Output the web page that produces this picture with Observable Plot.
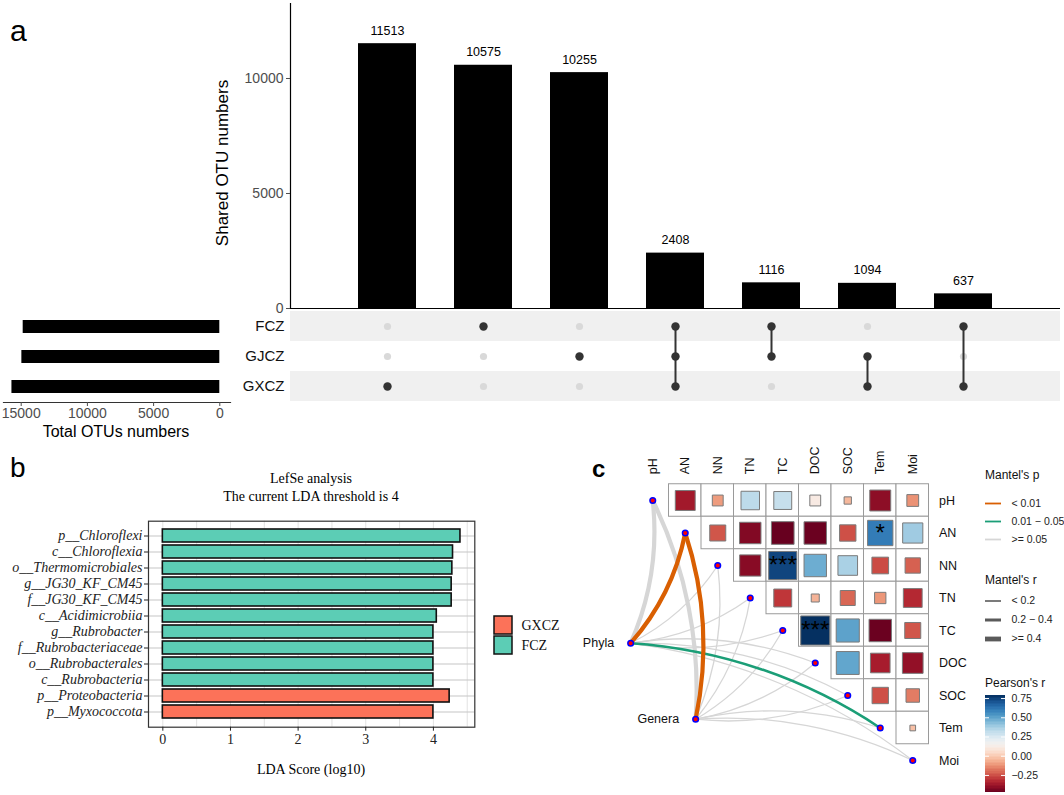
<!DOCTYPE html>
<html><head><meta charset="utf-8">
<script src="https://cdn.jsdelivr.net/npm/d3@7"></script>
<script src="https://cdn.jsdelivr.net/npm/@observablehq/plot@0.6"></script>
<style>
body{margin:0;background:#fff;}
#root{position:relative;width:1064px;height:795px;overflow:hidden;background:#fff;}
</style></head><body><div id="root"></div>
<script>
// ---------------- DATA ----------------
// Panel a (UpSet)
const setNames = ["FCZ", "GJCZ", "GXCZ"];
const setSizes = [14850, 14950, 15700];
const intersectionNames = ["GXCZ", "FCZ", "GJCZ", "FCZ&GJCZ&GXCZ", "FCZ&GJCZ", "GJCZ&GXCZ", "FCZ&GXCZ"];
const intersectionCounts = [11513, 10575, 10255, 2408, 1116, 1094, 637];
const shadedSets = ["FCZ", "GXCZ"];
const sharedTicks = [0, 5000, 10000];
const totalTicks = [0, 5000, 10000, 15000];

// Panel b (LEfSe)
const lefseTaxa = ["p__Chloroflexi", "c__Chloroflexia", "o__Thermomicrobiales", "g__JG30_KF_CM45", "f__JG30_KF_CM45", "c__Acidimicrobiia", "g__Rubrobacter", "f__Rubrobacteriaceae", "o__Rubrobacterales", "c__Rubrobacteria", "p__Proteobacteria", "p__Myxococcota"];
const lefseScores = [4.40, 4.29, 4.28, 4.27, 4.27, 4.05, 4.00, 4.00, 4.00, 4.00, 4.24, 4.00];
const lefseGroups = ["FCZ", "FCZ", "FCZ", "FCZ", "FCZ", "FCZ", "FCZ", "FCZ", "FCZ", "FCZ", "GXCZ", "GXCZ"];
const lefseGroupNames = ["GXCZ", "FCZ"];
const lefseColors = ["#fc7259", "#5ccdb5"];
const lefseTicks = [0, 1, 2, 3, 4];
const lefseGridTicks = [0, 0.5, 1, 1.5, 2, 2.5, 3, 3.5, 4, 4.5];

// Panel c (Mantel + Pearson)
const envVars = ["pH", "AN", "NN", "TN", "TC", "DOC", "SOC", "Tem", "Moi"];
// upper triangle, row i holds columns i+1 .. 8
const pearsonRows = [
  [-0.37, -0.11, 0.32, 0.30, 0.11, -0.05, -0.41, -0.13],
  [-0.24, -0.43, -0.48, -0.47, -0.25, 0.60, 0.38],
  [-0.42, 0.74, 0.47, 0.36, -0.26, -0.22],
  [-0.30, -0.06, -0.21, -0.12, -0.33],
  [0.79, 0.50, -0.47, -0.24],
  [0.49, -0.36, -0.40],
  [-0.25, -0.17],
  [-0.03]
];
const pearsonSig = [["AN", "Tem", "*"], ["NN", "TC", "***"], ["TC", "DOC", "***"]];
const pearsonDomain = [-0.476, 0.79];
const pearsonTicks = [-0.25, 0, 0.25, 0.5, 0.75];

const specNames = ["Phyla", "Genera"];
const specLayout = [[-0.68, 4.39], [1.32, 6.73]]; // node placement in cell units (col, row)
const mantelPCats = ["< 0.01", "0.01 \u2212 0.05", ">= 0.05"];
const mantelPColors = ["#d95f02", "#1b9e77", "#d6d6d6"];
const mantelRCats = ["< 0.2", "0.2 \u2212 0.4", ">= 0.4"];
const mantelREdgeWidths = [1.3, 2.6, 4.2];
const mantelRLegendWidths = [1.6, 3, 4.8];
// per species, per env var: index into mantelPCats / mantelRCats
const mantelP = [
  [2, 0, 2, 2, 2, 2, 2, 1, 2],
  [2, 0, 2, 2, 2, 2, 2, 2, 2]
];
const mantelR = [
  [2, 2, 0, 0, 0, 0, 0, 1, 0],
  [2, 2, 0, 0, 0, 0, 0, 0, 0]
];

// ---------------- HELPERS ----------------
const SANS = '"Liberation Sans", Arial, Helvetica, sans-serif';
const SERIF = '"Liberation Serif", "Times New Roman", Times, serif';
const root = document.getElementById("root");
function place(node, left, top) {
  node.style.position = "absolute";
  node.style.left = left + "px";
  node.style.top = top + "px";
  root.appendChild(node);
  return node;
}
function label(text, x, y, o = {}) {
  const d = document.createElement("div");
  d.textContent = text;
  const size = o.size || 14;
  d.style.cssText = `position:absolute;white-space:nowrap;line-height:1;font-size:${size}px;font-family:${o.family || SANS};font-weight:${o.weight || "normal"};font-style:${o.fstyle || "normal"};color:${o.color || "#000"};left:${x}px;top:${y}px;`;
  const tx = o.anchor === "middle" ? "-50%" : o.anchor === "end" ? "-100%" : "0";
  d.style.transform = `translate(${tx},-50%)` + (o.rotate ? ` rotate(${o.rotate}deg)` : "");
  root.appendChild(d);
}
const st = (fam = SANS, fs = "14px") => ({fontFamily: fam, fontSize: fs, background: "transparent", overflow: "visible"});

// ---------------- PANEL A ----------------
const interData = intersectionNames.map((n, i) => ({combo: n, count: intersectionCounts[i]}));
const xBand = {type: "band", domain: intersectionNames, paddingInner: 0.4, paddingOuter: 0.7, axis: null};

place(Plot.plot({
  width: 874, height: 312, marginLeft: 100, marginRight: 4, marginTop: 3, marginBottom: 4,
  x: xBand,
  y: {domain: [0, 13260], axis: null},
  style: st(),
  marks: [
    Plot.barY(interData, {x: "combo", y: "count", fill: "black"}),
    Plot.text(interData, {x: "combo", y: "count", text: d => String(d.count), dy: -13, fontSize: 12.5, fill: "black"}),
    Plot.ruleY([0], {stroke: "black", strokeWidth: 1.2}),
    Plot.frame({anchor: "left", stroke: "black", strokeWidth: 1.2}),
    Plot.axisY(sharedTicks, {tickFormat: "d", tickSize: 4, tickPadding: 3, fontSize: 14, color: "#4d4d4d", label: null})
  ]
}), 190, 0);

const matrixCells = [];
intersectionNames.forEach(c => setNames.forEach(s => matrixCells.push({combo: c, set: s, member: c.split("&").includes(s)})));
const connectors = intersectionNames
  .filter(c => c.split("&").length > 1)
  .map(c => { const m = setNames.filter(s => c.split("&").includes(s)); return {combo: c, from: m[0], to: m[m.length - 1]}; });

place(Plot.plot({
  width: 874, height: 92, marginLeft: 100, marginRight: 4, marginTop: 0, marginBottom: 0,
  x: xBand,
  y: {type: "band", domain: setNames, padding: 0, axis: null},
  style: st(),
  marks: [
    Plot.cell(shadedSets, {y: d => d, fill: "#f0f0f0"}),
    Plot.dot(matrixCells, {filter: d => !d.member, x: "combo", y: "set", r: 3.6, fill: "#d9d9d9"}),
    Plot.link(connectors, {x1: "combo", x2: "combo", y1: "from", y2: "to", stroke: "#333", strokeWidth: 2}),
    Plot.dot(matrixCells, {filter: d => d.member, x: "combo", y: "set", r: 4.2, fill: "#333"}),
    Plot.axisY({tickSize: 0, tickPadding: 6, fontSize: 15, color: "#111", label: null})
  ]
}), 190, 310);

const setData = setNames.map((s, i) => ({set: s, size: setSizes[i]}));
place(Plot.plot({
  width: 240, height: 135, marginLeft: 3, marginRight: 10, marginTop: 0, marginBottom: 43,
  x: {domain: [-808, 16337], reverse: true, axis: null},
  y: {type: "band", domain: setNames, paddingInner: 0.57, paddingOuter: 0.285, axis: null},
  style: st(),
  marks: [
    Plot.barX(setData, {y: "set", x: "size", fill: "black"}),
    Plot.frame({anchor: "bottom", stroke: "#333", strokeWidth: 1.2}),
    Plot.axisX(totalTicks, {tickFormat: "d", tickSize: 4, tickPadding: 2, fontSize: 14, color: "#4d4d4d", label: null})
  ]
}), 0, 310);

label("a", 10, 31, {size: 30});
label("Shared OTU numbers", 222, 162.5, {size: 17, anchor: "middle", rotate: -90});
label("Total OTUs numbers", 116, 432, {size: 16, anchor: "middle"});

// ---------------- PANEL B ----------------
const lefseData = lefseTaxa.map((t, i) => ({taxon: t, lda: lefseScores[i], group: lefseGroups[i]}));
place(Plot.plot({
  width: 480, height: 280, marginLeft: 148, marginRight: 5.7, marginTop: 15.7, marginBottom: 58.3,
  x: {domain: [-0.212, 4.612], axis: null},
  y: {type: "band", domain: lefseTaxa, paddingInner: 0.175, paddingOuter: 0.17, axis: null},
  color: {domain: lefseGroupNames, range: lefseColors},
  style: st(SERIF),
  marks: [
    Plot.gridX(lefseGridTicks, {stroke: "#e2e2e2", strokeOpacity: 1, strokeWidth: 1}),
    Plot.gridY({stroke: "#c6c6c6", strokeOpacity: 1, strokeWidth: 1.2}),
    Plot.barX(lefseData, {y: "taxon", x: "lda", fill: "group", stroke: "#111", strokeWidth: 1.6}),
    Plot.frame({stroke: "#333", strokeWidth: 1.2}),
    Plot.axisY({tickSize: 4, tickPadding: 2, fontSize: 14, fontStyle: "italic", fontFamily: SERIF, color: "#222", label: null}),
    Plot.axisX(lefseTicks, {tickSize: 4, tickPadding: 3, fontSize: 14, fontFamily: SERIF, color: "#222", label: null})
  ]
}), 0, 505);

place(Plot.plot({
  width: 70, height: 42, marginLeft: 4, marginRight: 47.5, marginTop: 1, marginBottom: 1,
  x: {type: "band", domain: ["key"], padding: 0, axis: null},
  y: {type: "band", domain: lefseGroupNames, paddingInner: 0.1, paddingOuter: 0.05, axis: null},
  color: {domain: lefseGroupNames, range: lefseColors},
  style: st(SERIF),
  marks: [
    Plot.cell(lefseGroupNames, {x: () => "key", y: d => d, fill: d => d, stroke: "#111", strokeWidth: 1.5}),
    Plot.text(lefseGroupNames, {x: () => "key", y: d => d, text: d => d, textAnchor: "start", dx: 18, fontSize: 14, fill: "#111"})
  ]
}), 490, 614);

label("b", 10, 468, {size: 28});
label("LefSe analysis", 311, 479, {size: 14, anchor: "middle", family: SERIF});
label("The current LDA threshold is 4", 311, 497, {size: 14, anchor: "middle", family: SERIF});
label("LDA Score (log10)", 311, 770, {size: 14, anchor: "middle", family: SERIF});

// ---------------- PANEL C ----------------
const cellData = [];
pearsonRows.forEach((row, i) => row.forEach((v, k) => cellData.push({row: i, col: i + 1 + k, value: v})));
const sigData = pearsonSig.map(([a, b, s]) => ({row: envVars.indexOf(a), col: envVars.indexOf(b), sig: s}));
const diagNodes = envVars.map((v, i) => ({name: v, idx: i}));
const specNodes = specNames.map((n, s) => ({name: n, col: specLayout[s][0], row: specLayout[s][1]}));
const edges = [];
specNodes.forEach((sp, s) => envVars.forEach((v, i) => edges.push({
  spec: sp.name, sx: sp.col, sy: sp.row, tx: i, ty: i, p: mantelP[s][i], rc: mantelR[s][i]
})));
const envIdx = envVars.map((_, i) => i);

const edgeMarks = [];
for (const pc of [2, 1, 0]) {
  for (const up of [true, false]) {
    edgeMarks.push(Plot.arrow(edges, {
      filter: d => d.p === pc && ((d.ty < d.sy) === up),
      x1: "sx", y1: "sy", x2: "tx", y2: "ty",
      bend: up ? -15 : 15, headLength: 0,
      stroke: mantelPColors[pc],
      strokeWidth: d => mantelREdgeWidths[d.rc]
    }));
  }
}

place(Plot.plot({
  width: 420, height: 355, marginLeft: 76, marginRight: 51.5, marginTop: 43.75, marginBottom: 18.75,
  x: {domain: [-0.5, 8.5], axis: null},
  y: {domain: [-0.5, 8.5], reverse: true, axis: null},
  r: {type: "sqrt", domain: [0, 1], range: [0, 18.45]},
  color: {type: "linear", scheme: "RdBu", domain: pearsonDomain},
  style: st(SANS, "12.5px"),
  marks: [
    Plot.rect(cellData, {x1: d => d.col - 0.5, x2: d => d.col + 0.5, y1: d => d.row - 0.5, y2: d => d.row + 0.5, fill: "white", stroke: "#9a9a9a", strokeWidth: 1}),
    Plot.dot(cellData, {x: "col", y: "row", r: d => Math.abs(d.value), symbol: "square", fill: "value", stroke: "#7a7a7a", strokeWidth: 1}),
    Plot.text(sigData, {x: "col", y: "row", text: "sig", fontSize: 24, fill: "black"}),
    ...edgeMarks,
    Plot.dot(diagNodes, {x: "idx", y: "idx", r: 2.8, fill: "red", stroke: "blue", strokeWidth: 1.5}),
    Plot.dot(specNodes, {x: "col", y: "row", r: 2.8, fill: "red", stroke: "blue", strokeWidth: 1.5}),
    Plot.text(specNodes, {x: "col", y: "row", text: "name", textAnchor: "end", dx: -16.5, fontSize: 12.5, fill: "#111"}),
    Plot.axisX(envIdx, {anchor: "top", tickFormat: i => envVars[i], tickSize: 0, tickPadding: 10, tickRotate: -90, fontSize: 12.5, color: "#111", label: null}),
    Plot.axisY(envIdx, {anchor: "right", tickFormat: i => envVars[i], tickSize: 0, tickPadding: 10, fontSize: 12.5, color: "#111", label: null})
  ]
}), 560, 440);

label("c", 592, 469, {size: 24, weight: "bold"});

// Mantel's p legend
label("Mantel's p", 985, 475, {size: 12, color: "#111"});
place(Plot.plot({
  width: 79, height: 54, marginLeft: 0, marginRight: 63, marginTop: 0, marginBottom: 0,
  x: {domain: [0, 1], axis: null},
  y: {type: "band", domain: mantelPCats, padding: 0, axis: null},
  color: {domain: mantelPCats, range: mantelPColors},
  style: st(SANS, "10.5px"),
  marks: [
    Plot.ruleY(mantelPCats, {y: d => d, x1: 0, x2: 1, stroke: d => d, strokeWidth: 1.8}),
    Plot.text(mantelPCats, {y: d => d, x: 1, dx: 10, text: d => d, textAnchor: "start", fontSize: 10.5, fill: "#222"})
  ]
}), 985, 494);

// Mantel's r legend
label("Mantel's r", 985, 580, {size: 12, color: "#111"});
place(Plot.plot({
  width: 79, height: 57, marginLeft: 0, marginRight: 63, marginTop: 0, marginBottom: 0,
  x: {domain: [0, 1], axis: null},
  y: {type: "band", domain: mantelRCats, padding: 0, axis: null},
  style: st(SANS, "10.5px"),
  marks: [
    Plot.ruleY(mantelRCats, {y: d => d, x1: 0, x2: 1, stroke: "#5a5a5a", strokeWidth: (d, i) => mantelRLegendWidths[i]}),
    Plot.text(mantelRCats, {y: d => d, x: 1, dx: 10, text: d => d, textAnchor: "start", fontSize: 10.5, fill: "#222"})
  ]
}), 985, 591);

// Pearson's r colour bar
label("Pearson's r", 985, 683, {size: 12, color: "#111"});
const rampN = 64;
const rampStep = (pearsonDomain[1] - pearsonDomain[0]) / rampN;
const ramp = d3.range(rampN).map(i => pearsonDomain[0] + i * rampStep);
place(Plot.plot({
  width: 79, height: 97.3, marginLeft: 0, marginRight: 59, marginTop: 0, marginBottom: 0,
  x: {domain: [0, 1], axis: null},
  y: {domain: pearsonDomain, axis: null},
  color: {type: "linear", scheme: "RdBu", domain: pearsonDomain},
  style: st(SANS, "10.5px"),
  marks: [
    Plot.rect(ramp, {x1: 0, x2: 1, y1: d => d, y2: d => d + rampStep * 1.3, fill: d => d + rampStep / 2, shapeRendering: "crispEdges"}),
    Plot.ruleY(pearsonTicks, {x1: 0, x2: 0.2, stroke: "white", strokeWidth: 1}),
    Plot.ruleY(pearsonTicks, {x1: 0.8, x2: 1, stroke: "white", strokeWidth: 1}),
    Plot.axisY(pearsonTicks, {anchor: "right", tickSize: 0, tickPadding: 6, fontSize: 10.5, tickFormat: d3.format(".2f"), color: "#222", label: null})
  ]
}), 985, 695);
</script></body></html>
